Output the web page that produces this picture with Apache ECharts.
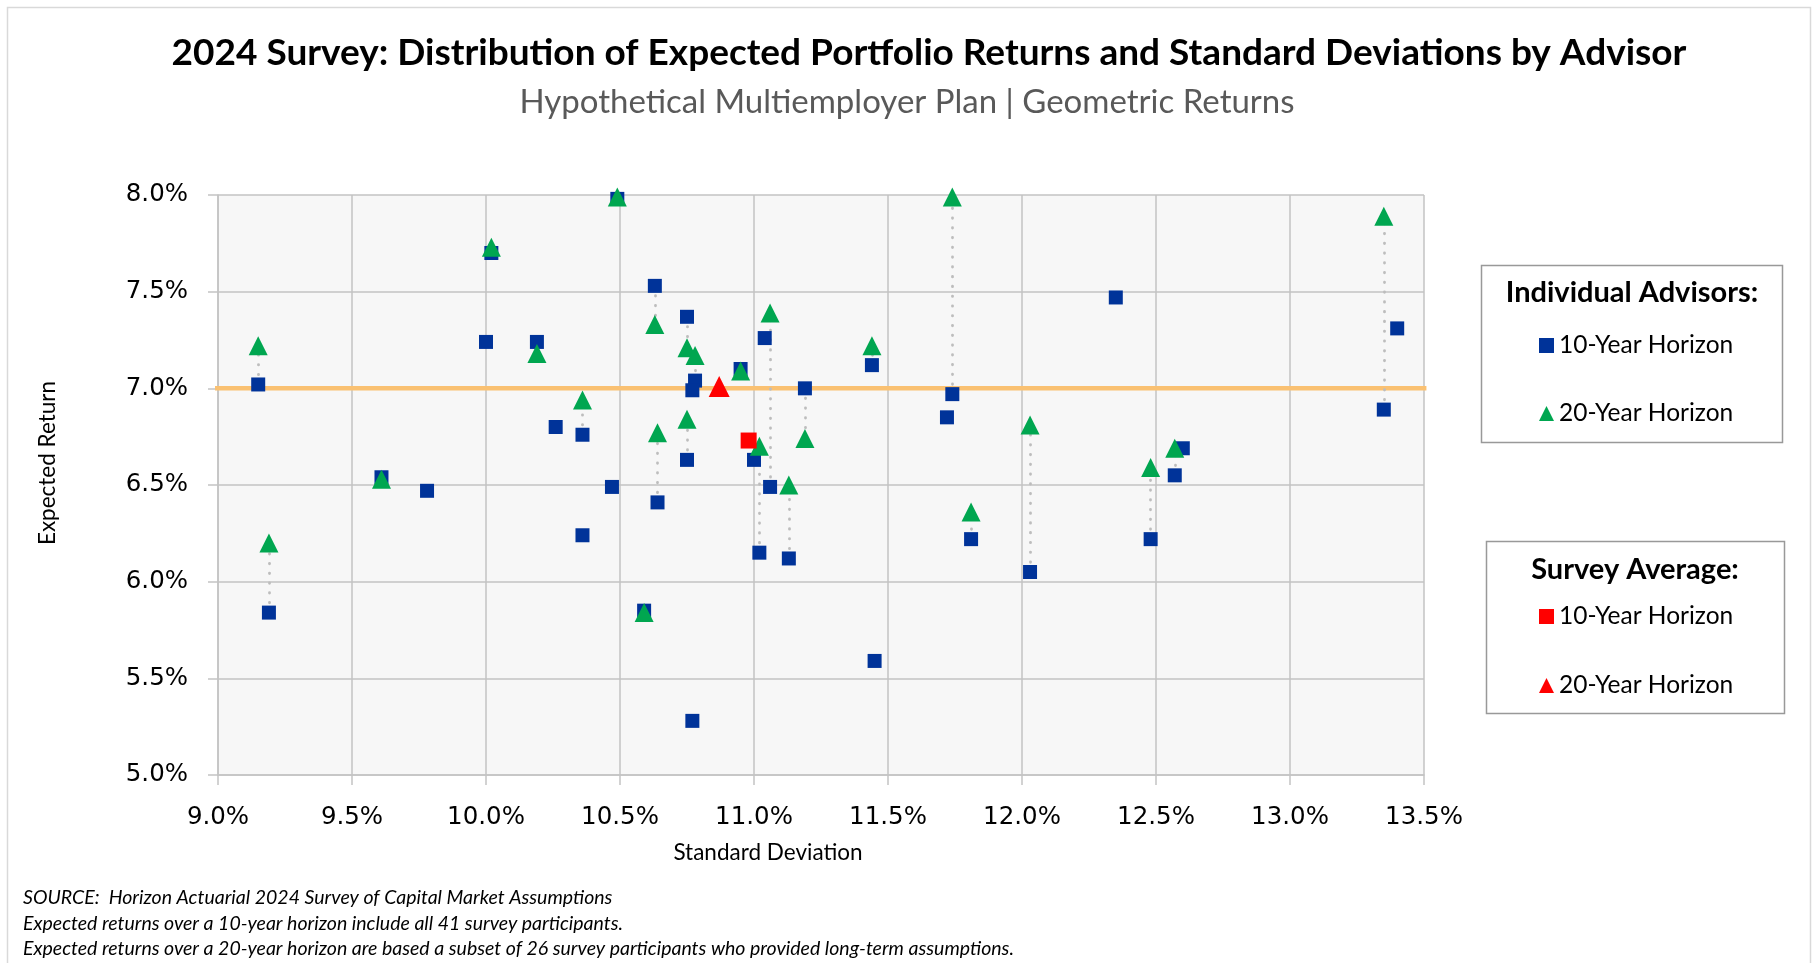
<!DOCTYPE html>
<html>
<head>
<meta charset="utf-8">
<title>2024 Survey: Expected Returns and Standard Deviations</title>
<script src="https://cdn.jsdelivr.net/npm/echarts@6/dist/echarts.min.js"></script>
<style>
  html, body { margin: 0; padding: 0; background: #fff; }
  #chart { width: 1815px; height: 963px; }
</style>
</head>
<body>
<div id="chart"></div>
<script>
// 10-year horizon (all advisors); first 25 entries line up with the 20-year arrays
const sd10 = [9.15, 10.02, 10.19, 10.36, 9.61, 9.19, 10.49, 10.63, 10.75, 10.78, 10.95, 11.06, 11.19,
  11.44, 11.74, 10.64, 10.75, 11.02, 11.13, 10.59, 11.81, 13.35, 12.03, 12.48, 12.57,
  10.00, 10.26, 9.78, 10.36, 10.47, 10.77, 11.04, 11.72, 11.00, 10.77, 11.45, 12.35, 13.40, 12.60];
const ret10 = [7.02, 7.70, 7.24, 6.76, 6.54, 5.84, 7.98, 7.53, 7.37, 7.04, 7.10, 6.49, 7.00,
  7.12, 6.97, 6.41, 6.63, 6.15, 6.12, 5.85, 6.22, 6.89, 6.05, 6.22, 6.55,
  7.24, 6.80, 6.47, 6.24, 6.49, 6.99, 7.26, 6.85, 6.63, 5.28, 5.59, 7.47, 7.31, 6.69];

// 20-year horizon (subset of advisors)
const sd20 = [9.15, 10.02, 10.19, 10.36, 9.61, 9.19, 10.49, 10.63, 10.75, 10.78, 10.95, 11.06, 11.19,
  11.44, 11.74, 10.64, 10.75, 11.02, 11.13, 10.59, 11.81, 13.35, 12.03, 12.48, 12.57];
const ret20 = [7.22, 7.73, 7.18, 6.94, 6.53, 6.20, 7.99, 7.33, 7.21, 7.17, 7.09, 7.39, 6.74,
  7.22, 7.99, 6.77, 6.84, 6.70, 6.50, 5.84, 6.36, 7.89, 6.81, 6.59, 6.69];

// survey averages
const avg10 = [10.98, 6.73];
const avg20 = [10.87, 7.01];

// 7.0% reference line
const refReturn = 7.0;
const refLineSd = [8.957, 13.509];

const xTicks = [9.0, 9.5, 10.0, 10.5, 11.0, 11.5, 12.0, 12.5, 13.0, 13.5];
const yTicks = [5.0, 5.5, 6.0, 6.5, 7.0, 7.5, 8.0];

const BLUE = '#003399';
const GREEN = '#00A650';
const RED = '#FF0000';
const GRID = '#C3C3C3';
const FONT = 'Lato';

const legendNames = {
  ind10: '10-Year Horizon',
  ind20: '20-Year Horizon',
  avg10: '10-Year Horizon',
  avg20: '20-Year Horizon'
};

const chart = echarts.init(document.getElementById('chart'));

const pairLinks = sd20.map((x, i) => ({
  coords: [[sd10[i], ret10[i]], [x, ret20[i]]]
}));

const legendBase = {
  orient: 'vertical',
  left: 1534,
  itemWidth: 15,
  itemHeight: 15,
  selectedMode: false,
  formatter: (n) => legendNames[n],
  textStyle: { fontFamily: FONT, fontSize: 24.5, color: '#000', lineHeight: 24 }
};

const option = {
  animation: false,
  backgroundColor: '#fff',
  grid: {
    left: 218, right: 391, top: 195, bottom: 188,
    show: true, backgroundColor: '#F7F7F7', borderWidth: 0
  },
  xAxis: {
    type: 'value',
    min: xTicks[0], max: xTicks[xTicks.length - 1], interval: 0.5,
    axisLine: { show: true, lineStyle: { color: GRID, width: 1.5 } },
    axisTick: { show: true, length: 10, lineStyle: { color: GRID, width: 1.5 } },
    splitLine: { show: true, lineStyle: { color: GRID, width: 1.5 } },
    axisLabel: {
      margin: 30, fontFamily: 'DejaVu Sans', fontSize: 24.5, color: '#000',
      formatter: (v) => v.toFixed(1) + '%'
    }
  },
  yAxis: {
    type: 'value',
    min: yTicks[0], max: yTicks[yTicks.length - 1], interval: 0.5,
    axisLine: { show: true, lineStyle: { color: GRID, width: 1.5 } },
    axisTick: { show: true, length: 10, lineStyle: { color: GRID, width: 1.5 } },
    splitLine: { show: true, lineStyle: { color: GRID, width: 1.5 } },
    axisLabel: {
      margin: 30, fontFamily: 'DejaVu Sans', fontSize: 24.5, color: '#000',
      formatter: (v) => v.toFixed(1) + '%'
    }
  },
  legend: [
    Object.assign({}, legendBase, { top: 328, itemGap: 43, data: [
      { name: 'ind10', icon: 'rect', itemStyle: { color: BLUE } },
      { name: 'ind20', icon: 'triangle', itemStyle: { color: GREEN } }
    ] }),
    Object.assign({}, legendBase, { top: 599, itemGap: 44, data: [
      { name: 'avg10', icon: 'rect', itemStyle: { color: RED } },
      { name: 'avg20', icon: 'triangle', itemStyle: { color: RED } }
    ] })
  ],
  series: [
    {
      name: 'ref',
      type: 'line',
      data: refLineSd.map((x) => [x, refReturn]),
      showSymbol: false,
      clip: false,
      silent: true,
      z: 1,
      lineStyle: { color: '#FAC172', width: 4.5 }
    },
    {
      name: 'links',
      type: 'lines',
      coordinateSystem: 'cartesian2d',
      data: pairLinks,
      silent: true,
      z: 2,
      lineStyle: { color: '#BDBDBD', width: 2.8, type: [0.4, 9.37], cap: 'round', opacity: 1 }
    },
    {
      name: 'ind10',
      type: 'scatter',
      data: sd10.map((x, i) => [x, ret10[i]]),
      symbol: 'rect',
      symbolSize: 14,
      z: 3,
      itemStyle: { color: BLUE, opacity: 1 }
    },
    {
      name: 'ind20',
      type: 'scatter',
      data: sd20.map((x, i) => [x, ret20[i]]),
      symbol: 'triangle',
      symbolSize: [19, 19],
      z: 4,
      itemStyle: { color: GREEN, opacity: 1 }
    },
    {
      name: 'avg10',
      type: 'scatter',
      data: [avg10],
      symbol: 'rect',
      symbolSize: 16,
      z: 5,
      itemStyle: { color: RED, opacity: 1 }
    },
    {
      name: 'avg20',
      type: 'scatter',
      data: [avg20],
      symbol: 'triangle',
      symbolSize: [21, 21],
      z: 5,
      itemStyle: { color: RED, opacity: 1 }
    }
  ],
  graphic: [
    // outer frame
    { type: 'rect', shape: { x: 7.5, y: 7.5, width: 1803, height: 1000 }, style: { fill: null, stroke: '#D9D9D9', lineWidth: 1.5 }, silent: true },
    // titles
    { type: 'text', x: 929, y: 53, style: { text: '2024 Survey: Distribution of Expected Portfolio Returns and Standard Deviations by Advisor', font: 'bold 37px ' + FONT, fill: '#000', align: 'center', verticalAlign: 'middle' } },
    { type: 'text', x: 907, y: 102, style: { text: 'Hypothetical Multiemployer Plan | Geometric Returns', font: '33px ' + FONT, fill: '#595959', align: 'center', verticalAlign: 'middle' } },
    // axis names
    { type: 'text', x: 768, y: 853, style: { text: 'Standard Deviation', font: '22.5px ' + FONT, fill: '#000', align: 'center', verticalAlign: 'middle' } },
    { type: 'text', x: 48, y: 463, rotation: Math.PI / 2, style: { text: 'Expected Return', font: '22.5px ' + FONT, fill: '#000', align: 'center', verticalAlign: 'middle' } },
    // legend boxes
    { type: 'rect', shape: { x: 1481.5, y: 265.5, width: 301, height: 177 }, style: { fill: '#fff', stroke: '#999', lineWidth: 1.5 }, z: -1 },
    { type: 'text', x: 1632, y: 293, style: { text: 'Individual Advisors:', font: 'bold 29px ' + FONT, fill: '#000', align: 'center', verticalAlign: 'middle' } },
    { type: 'rect', shape: { x: 1486.5, y: 541.5, width: 298, height: 172 }, style: { fill: '#fff', stroke: '#999', lineWidth: 1.5 }, z: -1 },
    { type: 'text', x: 1635, y: 570, style: { text: 'Survey Average:', font: 'bold 29px ' + FONT, fill: '#000', align: 'center', verticalAlign: 'middle' } },
    // footnotes
    { type: 'text', x: 23, y: 898, style: { text: 'SOURCE:  Horizon Actuarial 2024 Survey of Capital Market Assumptions', font: 'italic 19.5px ' + FONT, fill: '#000', verticalAlign: 'middle' } },
    { type: 'text', x: 23, y: 924, style: { text: 'Expected returns over a 10-year horizon include all 41 survey participants.', font: 'italic 19.5px ' + FONT, fill: '#000', verticalAlign: 'middle' } },
    { type: 'text', x: 23, y: 949, style: { text: 'Expected returns over a 20-year horizon are based a subset of 26 survey participants who provided long-term assumptions.', font: 'italic 19.5px ' + FONT, fill: '#000', verticalAlign: 'middle' } }
  ]
};

chart.setOption(option);
</script>
</body>
</html>
